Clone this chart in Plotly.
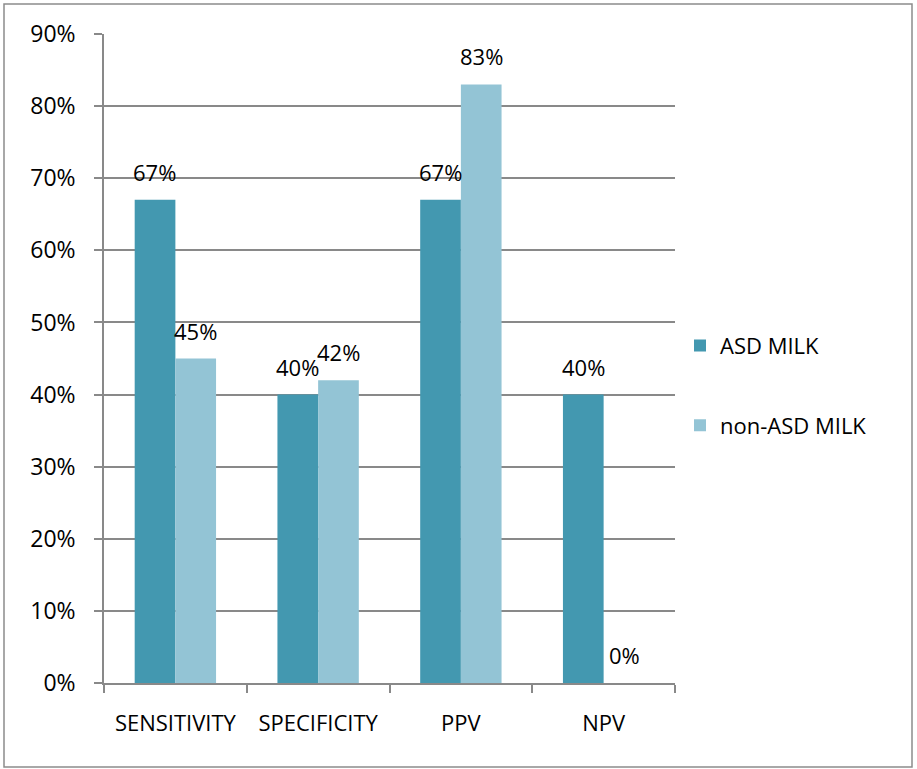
import plotly.graph_objects as go

# Diagnostic performance of the two milk groups
metrics = ["SENSITIVITY", "SPECIFICITY", "PPV", "NPV"]
asd_milk = [67, 40, 67, 40]
non_asd_milk = [45, 42, 83, 0]
y_ticks = [0, 10, 20, 30, 40, 50, 60, 70, 80, 90]

ASD_COLOR = "#4398B0"
NON_ASD_COLOR = "#93C4D5"
GRID = "#898989"
FONT = "Open Sans"

fig = go.Figure()
fig.add_trace(go.Bar(name="ASD MILK", x=metrics, y=asd_milk,
                     marker=dict(color=ASD_COLOR, line_width=0),
                     legendgroup="a", hoverinfo="skip"))
fig.add_trace(go.Bar(name="non-ASD MILK", x=metrics, y=non_asd_milk,
                     marker=dict(color=NON_ASD_COLOR, line_width=0),
                     legendgroup="b", hoverinfo="skip"))

# value labels above each bar
annotations = []
for series, shift in ((asd_milk, -20.4), (non_asd_milk, 20.4)):
    for cat, val in zip(metrics, series):
        annotations.append(dict(
            x=cat, y=val, xref="x", yref="y", text=f"{val}%",
            showarrow=False, xshift=shift, yshift=28,
            xanchor="center", yanchor="middle",
            font=dict(family=FONT, size=22, color="black")))

fig.update_layout(
    width=917, height=769,
    margin=dict(l=104, r=242, t=34, b=86),
    paper_bgcolor="white", plot_bgcolor="white",
    barmode="group", bargap=0.43, bargroupgap=0,
    font=dict(family=FONT, size=22, color="black"),
    annotations=annotations,
    legend=dict(x=1.0 + 5 / 571, xanchor="left", y=0.458, yanchor="middle",
                traceorder="grouped", tracegroupgap=48,
                font=dict(family=FONT, size=22, color="black"),
                bgcolor="rgba(0,0,0,0)"),
    xaxis=dict(type="category", showgrid=False, showline=True,
               linecolor=GRID, linewidth=1.5, ticks="outside",
               tickson="boundaries", ticklen=8, tickcolor=GRID,
               tickwidth=1.5, ticklabelstandoff=20,
               tickfont=dict(family=FONT, size=22, color="black")),
    yaxis=dict(range=[0, 90], tickvals=y_ticks,
               ticktext=[f"{v}%" for v in y_ticks],
               showgrid=True, gridcolor=GRID, gridwidth=1.5,
               showline=True, linecolor=GRID, linewidth=1.5,
               ticks="outside", ticklen=8, tickcolor=GRID, tickwidth=1.5,
               ticklabelstandoff=14, zeroline=False,
               tickfont=dict(family=FONT, size=23, color="black")),
    shapes=[dict(type="rect", xref="paper", yref="paper",
                 x0=(4 - 104) / 571, x1=(912 - 104) / 571,
                 y0=(683 - 767) / 649, y1=(683 - 4) / 649,
                 line=dict(color="#8C8C8C", width=1.5),
                 fillcolor="rgba(0,0,0,0)", layer="below")],
)

fig.write_html("out.html", config={"displayModeBar": False})
